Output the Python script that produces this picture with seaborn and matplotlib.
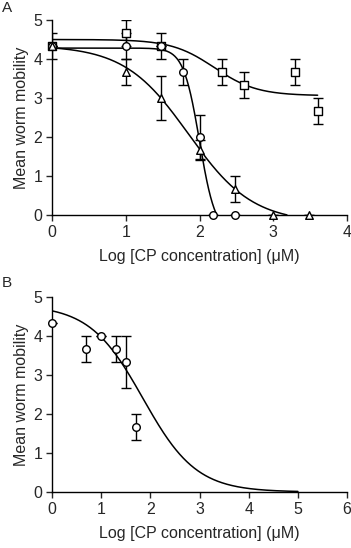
import numpy as np
import pandas as pd
import matplotlib
matplotlib.use("Agg")
import matplotlib.pyplot as plt
import seaborn as sns

# Panel A - squares
sq_x = [0, 1.0, 1.48, 2.3, 2.6, 3.3, 3.6]
sq_y = [4.33, 4.67, 4.33, 3.67, 3.33, 3.67, 2.67]
sq_err = [0.33, 0.33, 0.33, 0.33, 0.33, 0.33, 0.33]

# Panel A - circles
ci_x = [0, 1.0, 1.48, 1.78, 2.0, 2.18, 2.48]
ci_y = [4.33, 4.33, 4.33, 3.67, 2.0, 0, 0]
ci_err = [0, 0.33, 0, 0.33, 0.57, 0, 0]

# Panel A - triangles
tr_x = [0, 1.0, 1.48, 2.0, 2.48, 3.0, 3.48]
tr_y = [4.33, 3.67, 3.0, 1.67, 0.67, 0, 0]
tr_err = [0, 0.33, 0.57, 0.25, 0.33, 0, 0]

# Panel B - circles
b_x = [0, 0.7, 1.0, 1.3, 1.5, 1.7]
b_y = [4.33, 3.67, 4.0, 3.67, 3.33, 1.67]
b_err = [0, 0.33, 0, 0.33, 0.67, 0.33]

# fitted curves: top, bottom, log EC50, hill slope, x range
sq_fit = [4.5, 3.06, 2.2, 1.5, 0, 3.6]
ci_fit = [4.28, -0.5, 2.0, 4.0, 0, 2.5]
tr_fit = [4.35, -0.2, 1.85, 1.0, 0, 3.5]
b_fit = [4.8, 0.0, 1.85, 0.8, 0, 5.0]


def fit_curve(p):
    top, bottom, c, h, x0, x1 = p
    x = np.linspace(x0, x1, 400)
    y = bottom + (top - bottom) / (1 + 10 ** ((x - c) * h))
    keep = y >= 0
    return pd.DataFrame({"x": x[keep], "y": y[keep]})


sns.set_style("ticks")
plt.rcParams["font.family"] = ["Liberation Sans", "DejaVu Sans"]

fig = plt.figure(figsize=(3.51, 5.48), dpi=100)
axA = fig.add_axes([0.148, 0.6077, 0.841, 0.3558])
axB = fig.add_axes([0.148, 0.1022, 0.841, 0.3558])


def draw_series(ax, x, y, err, marker, fit):
    df = fit_curve(fit)
    sns.lineplot(data=df, x="x", y="y", ax=ax, color="black", linewidth=1.1,
                 estimator=None, sort=False)
    ax.errorbar(x, y, yerr=err, fmt="none", ecolor="black", elinewidth=1.0,
                capsize=3.5, capthick=1.0, zorder=3)
    pts = pd.DataFrame({"x": x, "y": y})
    sns.scatterplot(data=pts, x="x", y="y", ax=ax, marker=marker, s=30,
                    facecolor="white", edgecolor="black", linewidth=1.0,
                    zorder=4, clip_on=False)


draw_series(axA, sq_x, sq_y, sq_err, "s", sq_fit)
draw_series(axA, ci_x, ci_y, ci_err, "o", ci_fit)
draw_series(axA, tr_x, tr_y, tr_err, "^", tr_fit)
draw_series(axB, b_x, b_y, b_err, "o", b_fit)

for ax, xmax in [(axA, 4), (axB, 6)]:
    ax.set_xlim(0, xmax)
    ax.set_ylim(0, 5)
    ax.set_xticks(range(0, xmax + 1))
    ax.set_yticks(range(0, 6))
    ax.set_xlabel("Log [CP concentration] (\u03bcM)", fontsize=11.5, labelpad=7)
    ax.set_ylabel("Mean worm mobility", fontsize=11.5, labelpad=3)
    ax.tick_params(labelsize=11.5, length=4, width=1, direction="out", pad=3)
    sns.despine(ax=ax)
    for s in ["left", "bottom"]:
        ax.spines[s].set_linewidth(1.0)
        ax.spines[s].set_color("black")

fig.text(0.005, 0.998, "A", fontsize=11, va="top")
fig.text(0.005, 0.497, "B", fontsize=11, va="top")

fig.savefig("out.png", dpi=100)
